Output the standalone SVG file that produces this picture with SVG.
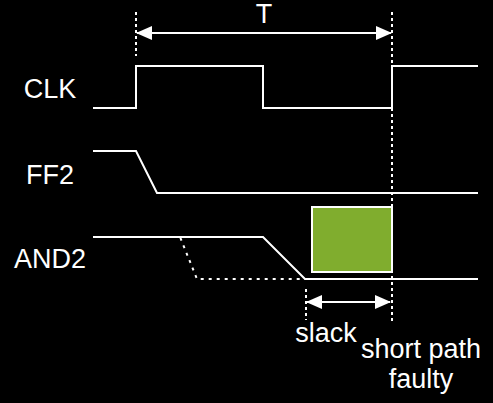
<svg xmlns="http://www.w3.org/2000/svg" width="493" height="403" viewBox="0 0 493 403">
<style>
.t{font-family:"Liberation Sans",Arial,sans-serif;font-size:27px;fill:#fff}
.w{fill:none;stroke:#fff;stroke-width:2}
.d{fill:none;stroke:#fff;stroke-width:2;stroke-dasharray:3 3}
.d2{fill:none;stroke:#fff;stroke-width:2;stroke-dasharray:3 5}
</style>
<defs>
<marker id="ah" viewBox="0 0 16 14" refX="15" refY="7" markerWidth="16" markerHeight="14" markerUnits="userSpaceOnUse" orient="auto-start-reverse">
<path d="M0,0 L16,7 L0,14 Z" fill="#fff"/>
</marker>
</defs>
<rect width="493" height="403" fill="#000"/>
<g id="labels">
<text class="t" x="50" y="98" text-anchor="middle">CLK</text>
<text class="t" x="50" y="184" text-anchor="middle">FF2</text>
<text class="t" x="50" y="268" text-anchor="middle">AND2</text>
<text class="t" x="264" y="23" text-anchor="middle">T</text>
<text class="t" x="326" y="342" text-anchor="middle">slack</text>
<text class="t" x="421" y="358" text-anchor="middle">short path</text>
<text class="t" x="421" y="388" text-anchor="middle">faulty</text>
</g>
<g id="box">
<rect x="312" y="207" width="80" height="65" fill="#80ad2e" stroke="#fff" stroke-width="2"/>
</g>
<g id="signals">
<path id="clk" class="w" d="M93,108 H136 V66 H263 V108 H392 V66 H478"/>
<path id="ff2" class="w" d="M93,151 H136 L157,193 H478"/>
<path id="and2" class="w" d="M93,237 H263 L305,279 H478"/>
<path id="and2-fast" class="d2" d="M93,237 H180 L197,279 H478"/>
</g>
<g id="connectors">
<path class="d" d="M136,12 V56"/>
<path class="d" d="M392,12 V324"/>
<path class="d" d="M306,289 V320"/>
<path class="w" d="M137,33 H391" marker-start="url(#ah)" marker-end="url(#ah)"/>
<path class="w" d="M307,302 H390" marker-start="url(#ah)" marker-end="url(#ah)"/>
</g>
</svg>
